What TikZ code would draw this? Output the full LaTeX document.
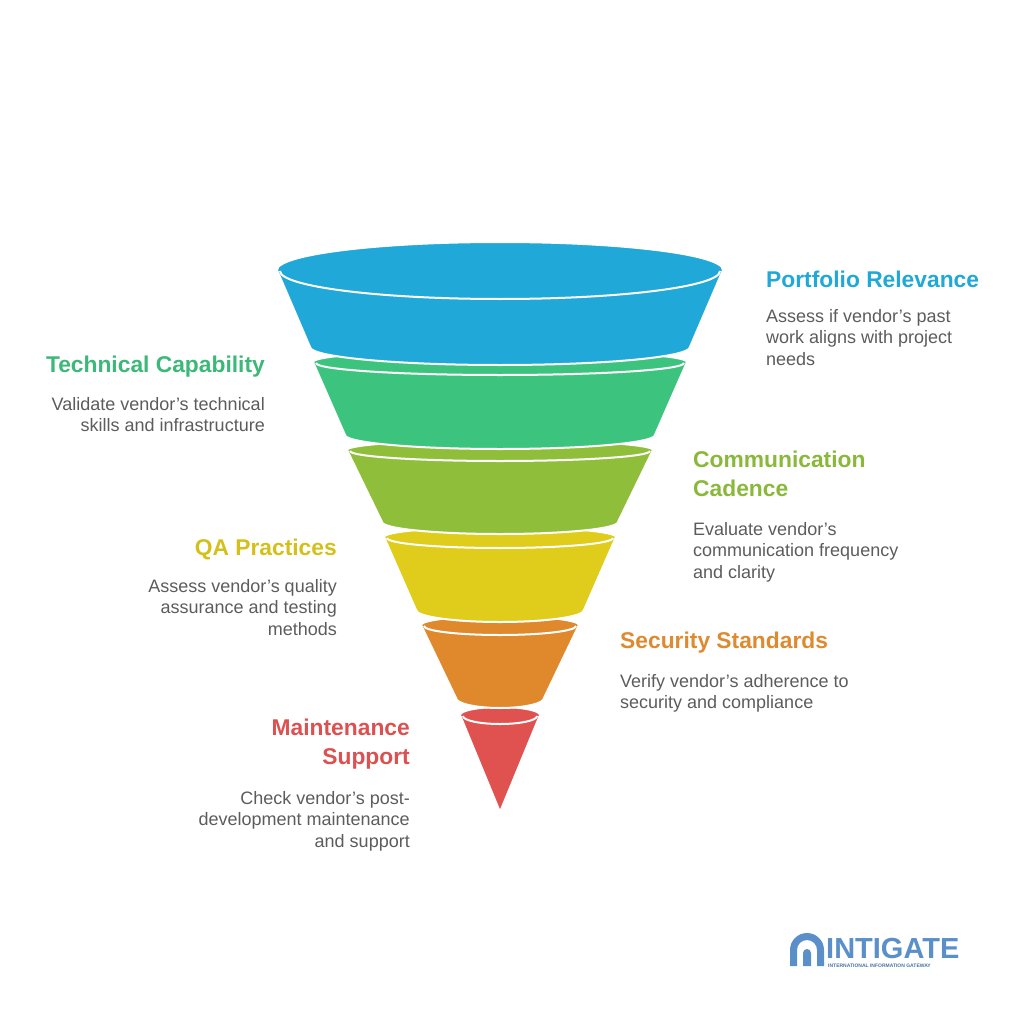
\documentclass[tikz,border=0pt]{standalone}
\usepackage{fontspec}
\setmainfont{Liberation Sans}
\begin{document}
\begin{tikzpicture}[x=1pt,y=-1pt,
 ttl/.style={font=\fontsize{22.8}{28.5}\selectfont\bfseries,inner sep=0pt},
 dsc/.style={font=\fontsize{18}{21.7}\selectfont,text=black!64,inner sep=0pt}]
\definecolor{cb}{HTML}{20A8D8}\definecolor{cg}{HTML}{3CC47F}\definecolor{co}{HTML}{8FBF3A}
\definecolor{cy}{HTML}{E0CC1A}\definecolor{cr}{HTML}{E0892C}\definecolor{cd}{HTML}{E05250}
\definecolor{tg}{HTML}{3CB878}\definecolor{to}{HTML}{8AB83A}\definecolor{ty}{HTML}{D4C01A}
\definecolor{tr}{HTML}{DD8A30}\definecolor{td}{HTML}{DD5050}\definecolor{lg}{HTML}{5A8FC9}
\useasboundingbox (0,0) rectangle (1024,1024);
\newcommand\fseg[7]{%
 \fill[#1,draw=white,line width=2] ({500-#3},#2) -- ({500-#6},#5) arc[start angle=180,end angle=0,x radius=#6,y radius=#7] -- ({500+#3},#2) arc[start angle=0,end angle=-180,x radius=#3,y radius=#4] -- cycle;
 \draw[white,line width=2] ({500-#3+3},{#2+1}) arc[start angle=180,end angle=0,x radius={#3-3},y radius=#4];}
\fill[cd,draw=white,line width=2] (460,715) -- (500,812) -- (540,715) arc[start angle=0,end angle=-180,x radius=40,y radius=8] -- cycle;
\draw[white,line width=2] (463,716) arc[start angle=180,end angle=0,x radius=37,y radius=8];
\fseg{cr}{625}{79}{9}{698}{44}{10}
\fseg{cy}{537}{116}{10}{610}{84}{12}
\fseg{co}{450}{153}{10}{522}{118}{12}
\fseg{cg}{362}{187}{12}{435}{155}{14}
\fseg{cb}{270}{223}{28}{347}{190}{18}
% texts
\node[ttl,text=cb,anchor=west] (t1) at (766,279) {Portfolio Relevance};
\node[dsc,anchor=north west,align=left] (d1) at (766,309) {Assess if vendor's past\\work aligns with project\\needs};
\node[ttl,text=tg,anchor=east] (t2) at (265,367) {Technical Capability};
\node[dsc,anchor=north east,align=right] (d2) at (265,397) {Validate vendor's technical\\skills and infrastructure};
\node[ttl,text=to,anchor=north west,align=left] (t3) at (693,451) {Communication\\Cadence};
\node[dsc,anchor=north west,align=left] (d3) at (693,522) {Evaluate vendor's\\communication frequency\\and clarity};
\node[ttl,text=ty,anchor=east] (t4) at (337,549) {QA Practices};
\node[dsc,anchor=north east,align=right] (d4) at (337,579) {Assess vendor's quality\\assurance and testing\\methods};
\node[ttl,text=tr,anchor=west] (t5) at (620,643) {Security Standards};
\node[dsc,anchor=north west,align=left] (d5) at (620,674) {Verify vendor's adherence to\\security and compliance};
\node[ttl,text=td,anchor=north east,align=right] (t6) at (410,719) {Maintenance\\Support};
\node[dsc,anchor=north east,align=right] (d6) at (410,791) {Check vendor's post-\\development maintenance\\and support};
% logo
\fill[lg] (790,966) -- (790,950) arc[start angle=180,end angle=360,radius=17] -- (824,966) -- (817,966) -- (817,950) arc[start angle=0,end angle=-180,radius=10] -- (797,966) -- cycle;
\fill[lg] (803,966) -- (803,953) arc[start angle=180,end angle=360,radius=4] -- (811,966) -- cycle;
\node[anchor=west,text=lg,font=\fontsize{29}{29}\selectfont\bfseries,inner sep=0pt] (lt) at (826,949) {INTIGATE};
\node[anchor=west,text=lg!80!black,font=\fontsize{5}{5}\selectfont\bfseries,inner sep=0pt] (ls) at (828,966) {INTERNATIONAL INFORMATION GATEWAY};
\end{tikzpicture}
\end{document}
